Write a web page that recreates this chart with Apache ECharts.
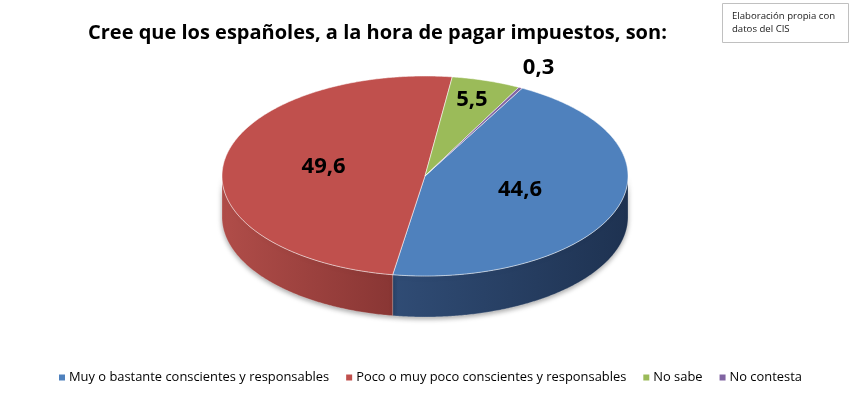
<!DOCTYPE html>
<html>
<head>
<meta charset="utf-8">
<script src="https://cdn.jsdelivr.net/npm/echarts@6/dist/echarts.min.js"></script>
<style>
html,body{margin:0;padding:0;background:#fff;}
#chart{width:851px;height:393px;}
</style>
</head>
<body>
<div id="chart"></div>
<script>
// ---- data ----
const titleText = 'Cree que los españoles, a la hora de pagar impuestos, son:';
const sourceLines = ['Elaboración propia con', 'datos del CIS'];
const categories = [
  'Muy o bastante conscientes y responsables',
  'Poco o muy poco conscientes y responsables',
  'No sabe',
  'No contesta'
];
const values = [44.6, 49.6, 5.5, 0.3];

// ---- styles ----
const colors = ['#4F81BD', '#C0504D', '#9BBB59', '#8064A2'];
const wallColors = [
  ['#304c75', '#1e3251'],
  ['#b04d49', '#893634'],
  ['#7d9a45', '#5d7531'],
  ['#66508a', '#4c3b69']
];
const firstSliceAngle = 28.6; // degrees, clockwise from 12 o'clock
const geo = { cx: 425, cy: 176, rx: 203, ry: 100, depth: 41 };

const total = values.reduce((a, b) => a + b, 0);
const starts = [];
let acc = firstSliceAngle;
values.forEach(v => { starts.push(acc); acc += v / total * 360; });

function pt(deg, dy) {
  const r = deg * Math.PI / 180;
  return [geo.cx + geo.rx * Math.sin(r), geo.cy - geo.ry * Math.cos(r) + (dy || 0)];
}
function arc(a0, a1, dy) {
  const pts = [];
  const n = Math.max(2, Math.ceil(Math.abs(a1 - a0) / 0.5));
  for (let i = 0; i <= n; i++) pts.push(pt(a0 + (a1 - a0) * i / n, dy));
  return pts;
}
function fmt(v) { return String(v).replace('.', ','); }

function makeRender(idx) {
  return function (params, api) {
    const v = api.value(0);
    const a0 = starts[idx];
    const a1 = a0 + v / total * 360;
    const children = [];
    // visible side wall: angles where the rim faces the viewer (90..270 mod 360)
    [[90, 270], [450, 630]].forEach(([w0, w1]) => {
      const b0 = Math.max(a0, w0), b1 = Math.min(a1, w1);
      if (b1 > b0) {
        const top = arc(b0, b1, 0);
        const bottom = arc(b1, b0, geo.depth);
        children.push({
          type: 'polygon',
          z2: 1,
          shape: { points: top.concat(bottom) },
          style: {
            fill: {
              type: 'linear', x: 0, y: 0, x2: 1, y2: 0,
              colorStops: [
                { offset: 0, color: wallColors[idx][0] },
                { offset: 1, color: wallColors[idx][1] }
              ]
            },
            stroke: 'rgba(255,255,255,0.35)',
            lineWidth: 0.6,
            shadowBlur: 5,
            shadowOffsetY: 2,
            shadowColor: 'rgba(0,0,0,0.35)'
          }
        });
      }
    });
    // top face
    const facePts = [[geo.cx, geo.cy]].concat(arc(a0, a1, 0));
    children.push({
      type: 'polygon',
      z2: 2,
      shape: { points: facePts },
      style: { fill: colors[idx], stroke: 'rgba(255,255,255,0.75)', lineWidth: 0.7 }
    });
    // data label
    const mid = (a0 + a1) / 2;
    const share = v / total * 100;
    const f = share < 1 ? 1.2 : (share < 10 ? 0.78 : 0.5);
    const r = mid * Math.PI / 180;
    children.push({
      type: 'text',
      z2: 10,
      x: geo.cx + geo.rx * f * Math.sin(r) - 1,
      y: geo.cy - geo.ry * f * Math.cos(r) - 2,
      style: {
        text: fmt(v),
        fill: '#000',
        font: 'bold 22px "Open Sans"',
        align: 'center',
        verticalAlign: 'middle'
      }
    });
    return { type: 'group', children: children };
  };
}

const chart = echarts.init(document.getElementById('chart'), null, { renderer: 'canvas' });
const option = {
  animation: false,
  backgroundColor: '#fff',
  title: {
    text: titleText,
    left: 83,
    top: 18,
    textStyle: { fontFamily: 'Open Sans', fontWeight: 'bold', fontSize: 20, color: '#000' }
  },
  legend: {
    data: categories,
    left: 54,
    top: 366,
    icon: 'rect',
    itemWidth: 6,
    itemHeight: 6,
    itemGap: 17,
    textStyle: { fontFamily: 'Open Sans', fontSize: 12.9, color: '#000', padding: [0, 0, 0, -1] }
  },
  graphic: [
    {
      type: 'group',
      children: [
        { type: 'rect', shape: { x: 722.5, y: 3.5, width: 126, height: 39 },
          style: { fill: '#fff', stroke: '#c0c0c0', lineWidth: 1 } },
        { type: 'text', x: 732, y: 16, style: { text: sourceLines[0], font: '9.6px "Open Sans"', fill: '#1a1a1a', verticalAlign: 'middle' } },
        { type: 'text', x: 732, y: 29, style: { text: sourceLines[1], font: '9.6px "Open Sans"', fill: '#1a1a1a', verticalAlign: 'middle' } }
      ]
    }
  ],
  series: categories.map((name, i) => ({
    type: 'custom',
    name: name,
    coordinateSystem: 'none',
    itemStyle: { color: colors[i] },
    renderItem: makeRender(i),
    data: [[values[i]]],
    silent: true
  }))
};
chart.setOption(option);
</script>
</body>
</html>
